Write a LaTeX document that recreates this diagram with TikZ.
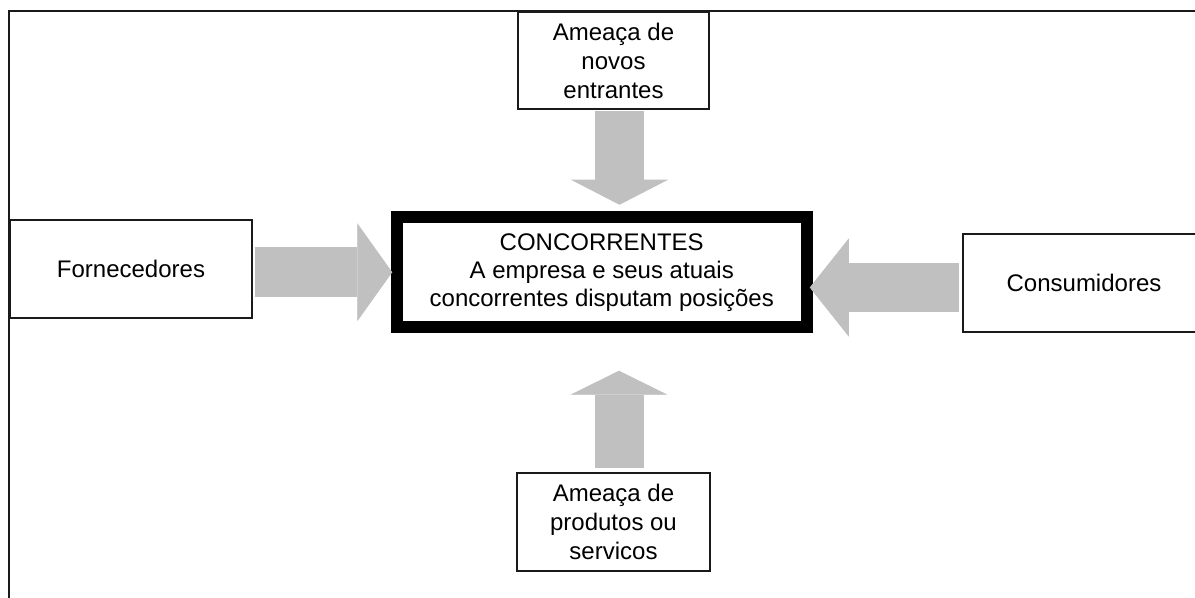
\documentclass[tikz,border=0pt]{standalone}
\usepackage{fontspec}
\setmainfont{Liberation Sans}
\usetikzlibrary{arrows.meta,positioning}
\definecolor{pfgrey}{HTML}{C0C0C0}
\definecolor{pfink}{HTML}{1A1A1A}

\begin{document}
\begin{tikzpicture}[x=0.5pt,y=-0.5pt,
    forcebox/.style={draw=pfink,line width=0.9pt,align=center,inner sep=0pt,font=\fontsize{12}{14.5}\selectfont},
    corebox/.style={draw=black,line width=6pt,align=center,inner sep=0pt,minimum width=205pt,minimum height=55pt,font=\fontsize{12}{14}\selectfont},
    forcearrow/.style={draw=pfgrey,line width=24.5pt}]
  \clip (0,0) rectangle (1195,598);
  \fill[white] (0,0) rectangle (1195,598);
  \draw[draw=pfink,line width=1.2pt] (9,620) -- (9,11) -- (1220,11);
  % forces round the core
  \node[forcebox,minimum width=95.5pt,minimum height=48.5pt] (novos) at (613.5,60.5) {Ameaça de\\novos\\entrantes};
  \node[forcebox,minimum width=121pt,minimum height=49pt] (forn) at (131,269) {Fornecedores};
  \node[corebox] (conc) at (601.75,272.25) {CONCORRENTES\\A empresa e seus atuais\\concorrentes disputam posições};
  \node[forcebox,minimum width=121pt,minimum height=49pt] (cons) at (1084,283) {Consumidores};
  \node[forcebox,minimum width=96.5pt,minimum height=49pt] (subst) at (613.5,522) {Ameaça de\\produtos ou\\servicos};
  % block arrows
  \draw[forcearrow,line width=25pt,shorten <=1pt,-{Triangle[length=17.5pt,width=49pt,line width=0.4pt]}] (forn.east |- conc.west) -- ([xshift=0.75pt]conc.west);
  \draw[forcearrow,shorten <=1.5pt,-{Triangle[length=12.5pt,width=48.5pt,line width=0.4pt]}] ([xshift=3pt,yshift=1pt]novos.south) -- ([xshift=8.875pt,yshift=3.25pt]conc.north);
  \draw[forcearrow,shorten <=2pt,-{Triangle[length=12pt,width=48.5pt,line width=0.4pt]}] ([xshift=2.75pt]subst.north) -- ([xshift=8.625pt,yshift=-18.75pt]conc.south);
  \draw[forcearrow,shorten <=1.5pt,-{Triangle[length=19.5pt,width=49pt,line width=0.4pt]}] ([yshift=-2.25pt]cons.west) -- ([xshift=-1.5pt,yshift=-7.625pt]conc.east);
\end{tikzpicture}
\end{document}
